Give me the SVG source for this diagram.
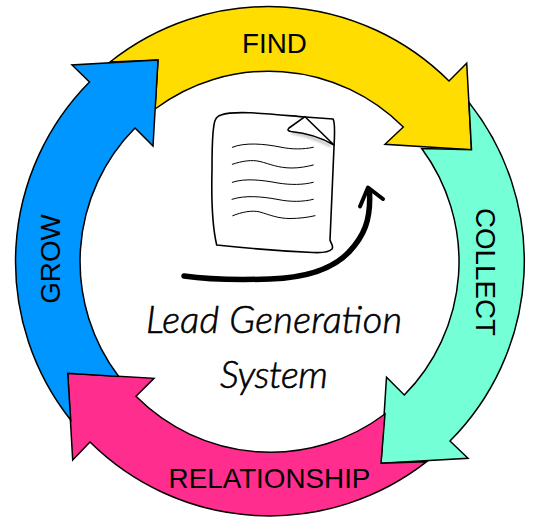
<svg xmlns="http://www.w3.org/2000/svg" width="541" height="525" viewBox="0 0 541 525">
<style>
.seg{stroke:#000;stroke-width:1.5;stroke-linejoin:miter}
.lbl{font-family:"Liberation Sans",Arial,sans-serif;font-size:27.800px;fill:#000;text-anchor:middle}
.hand{font-family:"Lato","Open Sans",sans-serif;font-style:italic;font-weight:300;font-size:38px;fill:#000;stroke:#000;stroke-width:.6}
.ink{fill:none;stroke:#000;stroke-linecap:round;stroke-linejoin:round}
</style>
<defs><filter id="blur" x="-30%" y="-30%" width="160%" height="160%"><feGaussianBlur stdDeviation="1"/></filter></defs>
<rect width="541" height="525" fill="#fff"/>
<g id="connectors"></g>
<g id="find">
<path class="seg" fill="#FFDD00" d="M110,62 A255,255 0 0 1 449,81 L466.700,63.300 L471.500,149.700 L385,144.300 L403.300,127 A190,190 0 0 0 155,109 L158,60 Z"/>
<text class="lbl" x="274.500" y="52.500">FIND</text>
</g>
<g id="collect">
<path class="seg" fill="#75FFD6" d="M469,102.500 A255,255 0 0 1 450,441 L468,458.300 L381,463.300 L386.500,377.300 L404.300,395 A190,190 0 0 0 421.700,148.500 L471.500,149.700 Z"/>
<text class="lbl" transform="translate(476,272) rotate(90)">COLLECT</text>
</g>
<g id="relationship">
<path class="seg" fill="#FF2D8D" d="M426.700,461.700 A255,255 0 0 1 90,442 L72.700,460 L67.700,373.300 L154,378.300 L136,396.300 A190,190 0 0 0 385,414 L381,463.300 Z"/>
<text class="lbl" x="269.500" y="488">RELATIONSHIP</text>
</g>
<g id="grow">
<path class="seg" fill="#0096FF" d="M70.700,420 A255,255 0 0 1 89.500,82 L72,65 L158,60 L153,146 L135,128 A190,190 0 0 0 118.700,376.500 L67.700,373.300 Z"/>
<text class="lbl" transform="translate(60,259) rotate(-90)">GROW</text>
</g>
<g id="document">
<path class="ink" stroke-width="1.600" d="M213,133 C214,124 214,117 221,115 C235,110 270,114 305,117 L333,119 C335,122 335,130 334,147 L330,240 C331,244 334,246 332,249 C329,252 322,253 313,252.500 C280,251 245,248 216.700,245 C212,225 211.500,190 212,170 C212,155 212,145 213,133 Z" style="fill:#fff"/>
<path fill="#555" opacity=".35" filter="url(#blur)" d="M291,132 C305,133 319,138 331,145 L331,147.500 C318,141 304,136 292,134.500 Z"/>
<path class="ink" stroke-width="1.600" style="fill:#fff" d="M305,116.700 L289,128 C287,130 288,131 291,131.500 C306,133 322,138 334,145 Z"/>
<g class="ink" stroke-width="1">
<path d="M232.300,147.300 C245,142 265,144 280,147 C292,149.500 303,149.500 313.300,147.300"/>
<path d="M232.300,164.300 C242,161 252,159.500 260,161.500 C270,164 278,168 292,168 C300,168 307,166.500 313.300,165"/>
<path d="M232.300,182.300 C245,178 262,180 278,183 C290,185 303,185 313.300,182.300"/>
<path d="M232,199.300 C245,195 262,196.500 278,199.500 C290,202 303,202 313.300,199.300"/>
<path d="M232.700,215.700 C242,212 252,210 260,212 C270,215 278,218.500 290,218.500 C299,218.500 307,217.500 315,215.700"/>
</g>
<path class="ink" stroke-width="5.500" d="M184,276 C205,279 240,280 270,279 C300,278 330,272 349,252 C364,236 371,220 369.500,192"/>
<path class="ink" stroke-width="4" d="M360,206.500 L368,187.500 L383,199"/>
</g>
<g id="title">
<text class="hand" x="146" y="333" textLength="256" lengthAdjust="spacing">Lead Generation</text>
<text class="hand" x="220" y="388" textLength="108" lengthAdjust="spacing">System</text>
</g>
</svg>
